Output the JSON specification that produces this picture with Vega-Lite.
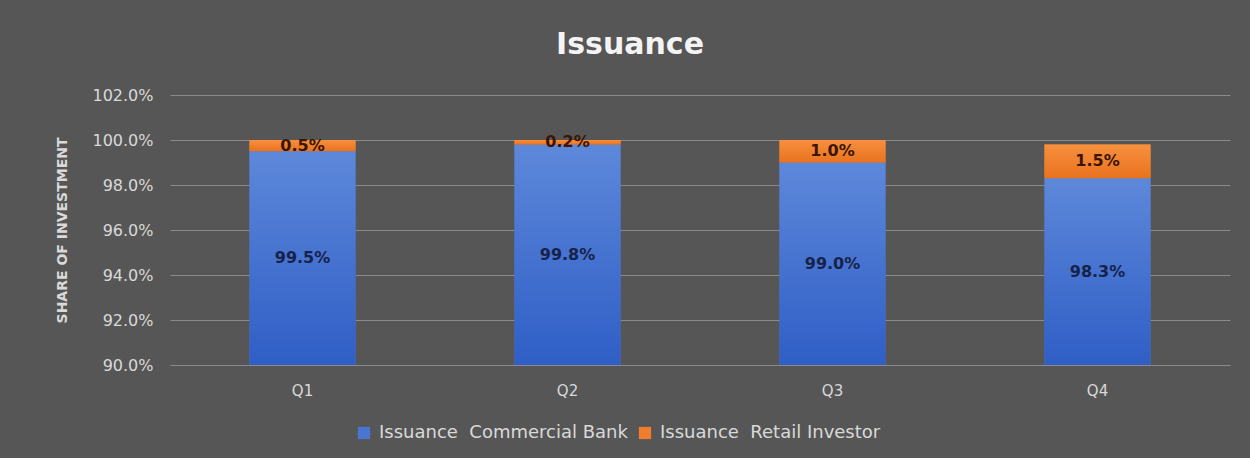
{
  "$schema": "https://vega.github.io/schema/vega-lite/v6.json",
  "width": 1060,
  "height": 270,
  "autosize": {"type": "none"},
  "padding": {"left": 170, "top": 95, "right": 20, "bottom": 93},
  "background": "#565656",
  "config": {"view": {"stroke": null}},
  "title": {
    "text": "Issuance",
    "font": "DejaVu Sans",
    "fontSize": 30,
    "fontWeight": "bold",
    "color": "#f4f4f4",
    "anchor": "middle",
    "dx": -70,
    "baseline": "alphabetic",
    "offset": 3
  },
  "data": {
    "values": [
      {"quarter": "Q1", "series": "Issuance\u00a0\u00a0Commercial Bank", "pct": 0.995},
      {"quarter": "Q1", "series": "Issuance\u00a0\u00a0Retail Investor", "pct": 0.005},
      {"quarter": "Q2", "series": "Issuance\u00a0\u00a0Commercial Bank", "pct": 0.998},
      {"quarter": "Q2", "series": "Issuance\u00a0\u00a0Retail Investor", "pct": 0.002},
      {"quarter": "Q3", "series": "Issuance\u00a0\u00a0Commercial Bank", "pct": 0.990},
      {"quarter": "Q3", "series": "Issuance\u00a0\u00a0Retail Investor", "pct": 0.010},
      {"quarter": "Q4", "series": "Issuance\u00a0\u00a0Commercial Bank", "pct": 0.983},
      {"quarter": "Q4", "series": "Issuance\u00a0\u00a0Retail Investor", "pct": 0.015}
    ]
  },
  "transform": [
    {
      "stack": "pct",
      "groupby": ["quarter"],
      "sort": [{"field": "series", "order": "ascending"}],
      "as": ["v0", "v1"]
    }
  ],
  "encoding": {
    "x": {
      "field": "quarter",
      "type": "nominal",
      "scale": {"paddingInner": 0.6, "paddingOuter": 0.3},
      "axis": {
        "title": null,
        "labelAngle": 0,
        "labelColor": "#d9d9d9",
        "labelFont": "DejaVu Sans",
        "labelFontSize": 15,
        "labelPadding": 18,
        "ticks": false,
        "domainColor": "#8a8a8a",
        "domainWidth": 1,
        "grid": false
      }
    }
  },
  "layer": [
    {
      "mark": {"type": "bar"},
      "encoding": {
        "y": {
          "field": "v0",
          "type": "quantitative",
          "scale": {"domain": [0.9, 1.02], "clamp": true, "zero": false, "nice": false},
          "axis": {
            "values": [0.9, 0.92, 0.94, 0.96, 0.98, 1.0, 1.02],
            "format": ".1%",
            "title": "SHARE OF INVESTMENT",
            "titleColor": "#d9d9d9",
            "titleFont": "DejaVu Sans",
            "titleFontSize": 14,
            "titleFontWeight": "bold",
            "titlePadding": 22,
            "labelColor": "#d9d9d9",
            "labelFont": "DejaVu Sans",
            "labelFontSize": 16,
            "labelPadding": 17,
            "domain": false,
            "ticks": false,
            "grid": true,
            "gridColor": "#8a8a8a",
            "gridWidth": 1
          }
        },
        "y2": {"field": "v1"},
        "color": {
          "field": "series",
          "type": "nominal",
          "scale": {
            "domain": ["Issuance\u00a0\u00a0Commercial Bank", "Issuance\u00a0\u00a0Retail Investor"],
            "range": ["#4a76d2", "#ef7d2e"]
          },
          "legend": {
            "title": null,
            "orient": "none",
            "direction": "horizontal",
            "legendX": 185,
            "legendY": 329,
            "symbolType": "square",
            "symbolSize": 150,
            "symbolStrokeWidth": 0,
            "labelColor": "#d9d9d9",
            "labelFont": "DejaVu Sans",
            "labelFontSize": 18,
            "labelLimit": 500,
            "labelOffset": 6,
            "columnPadding": 8
          }
        }
      }
    },
    {
      "transform": [{"filter": "datum.series === 'Issuance\u00a0\u00a0Commercial Bank'"}],
      "mark": {
        "type": "bar",
        "color": {
          "gradient": "linear",
          "x1": 0, "y1": 0, "x2": 0, "y2": 1,
          "stops": [
            {"offset": 0, "color": "#5d88da"},
            {"offset": 1, "color": "#2f5ec6"}
          ]
        }
      },
      "encoding": {
        "y": {"field": "v0", "type": "quantitative"},
        "y2": {"field": "v1"}
      }
    },
    {
      "transform": [{"filter": "datum.series === 'Issuance\u00a0\u00a0Retail Investor'"}],
      "mark": {
        "type": "bar",
        "color": {
          "gradient": "linear",
          "x1": 0, "y1": 0, "x2": 0, "y2": 1,
          "stops": [
            {"offset": 0, "color": "#f7903f"},
            {"offset": 1, "color": "#e9721e"}
          ]
        }
      },
      "encoding": {
        "y": {"field": "v0", "type": "quantitative"},
        "y2": {"field": "v1"}
      }
    },
    {
      "transform": [
        {"calculate": "(max(datum.v0, 0.9) + datum.v1) / 2", "as": "mid"}
      ],
      "mark": {
        "type": "text",
        "font": "DejaVu Sans",
        "fontSize": 16,
        "fontWeight": "bold",
        "baseline": "middle"
      },
      "encoding": {
        "y": {"field": "mid", "type": "quantitative"},
        "text": {"field": "pct", "type": "quantitative", "format": ".1%"},
        "color": {
          "condition": {"test": "datum.series === 'Issuance\u00a0\u00a0Commercial Bank'", "value": "#17224a"},
          "value": "#3a1500"
        }
      }
    }
  ]
}
